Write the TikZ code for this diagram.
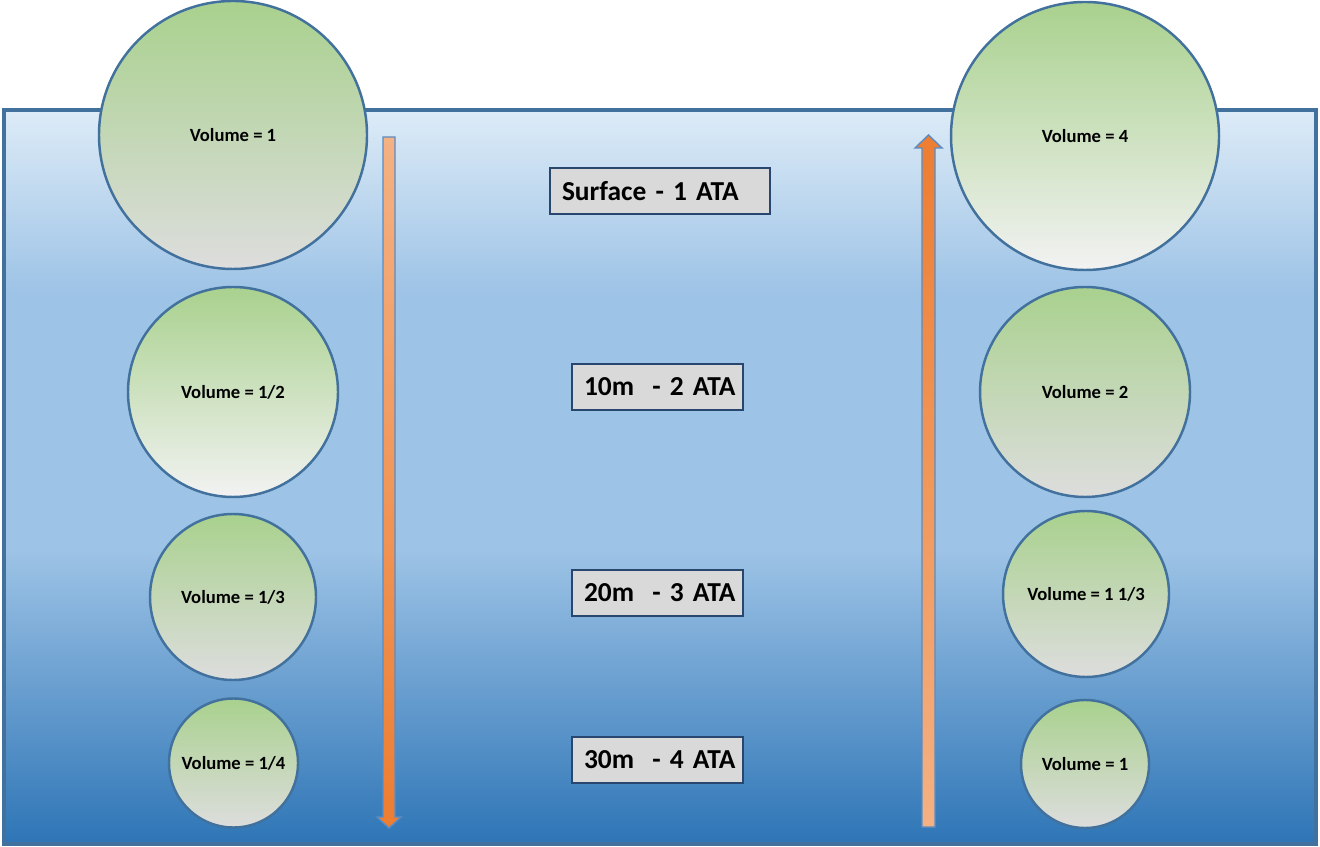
\documentclass[tikz,border=0pt]{standalone}
\usepackage{fontspec}
\setmainfont{Carlito}
\usetikzlibrary{calc}
\definecolor{seaborder}{RGB}{65,113,156}
\definecolor{seatop}{RGB}{221,235,247}
\definecolor{seamid}{RGB}{157,195,230}
\definecolor{seadeep}{RGB}{46,117,182}
\definecolor{bubblegreen}{RGB}{169,209,142}
\definecolor{bubblegrey}{RGB}{221,221,221}
\definecolor{bubblewhite}{RGB}{242,242,242}
\definecolor{depthfill}{RGB}{217,217,217}
\definecolor{depthborder}{RGB}{40,70,110}
\definecolor{arrowlight}{RGB}{244,177,131}
\definecolor{arrowdark}{RGB}{237,125,49}
\definecolor{arrowedge}{RGB}{91,140,195}
\pgfdeclareverticalshading{sea}{100bp}{color(0bp)=(seadeep); color(25bp)=(seadeep);
  color(45bp)=(seamid); color(62.5bp)=(seamid); color(75bp)=(seatop); color(100bp)=(seatop)}

\begin{document}
\begin{tikzpicture}[
    bubble/.style={circle,draw=seaborder,line width=0.7pt,inner sep=0pt,align=center,
      font=\fontsize{5.3}{6}\selectfont\bfseries,top color=bubblegreen,bottom color=bubblegrey},
    pale/.style={bottom color=bubblewhite},
    depth/.style={draw=depthborder,fill=depthfill,line width=0.7pt,minimum height=0.46cm,
      inner xsep=0.12cm,align=left,font=\fontsize{7.8}{9}\selectfont\bfseries},
    shaft/.style={draw=arrowedge,line width=0.4pt}]
  \useasboundingbox (0,0) rectangle (13.2,8.46);
  \path[draw=seaborder,line width=0.04cm,shade,shading=sea] (0.04,0.02) rectangle (13.16,7.36);

  \coordinate (dtop) at (3.89,7.09);
  \coordinate (dtip) at (3.89,0.18);
  \path[shaft,top color=arrowlight,bottom color=arrowdark]
    ($(dtop)+(-0.06,0)$) -- ($(dtop)+(0.06,0)$) -- ($(dtip)+(0.06,0.11)$) -- ($(dtip)+(0.12,0.11)$)
    -- (dtip) -- ($(dtip)+(-0.12,0.11)$) -- ($(dtip)+(-0.06,0.11)$) -- cycle;
  \coordinate (ubase) at (9.285,0.19);
  \coordinate (utip) at (9.285,7.11);
  \path[shaft,top color=arrowdark,bottom color=arrowlight]
    ($(ubase)+(-0.065,0)$) -- ($(ubase)+(0.065,0)$) -- ($(utip)+(0.065,-0.13)$) -- ($(utip)+(0.135,-0.13)$)
    -- (utip) -- ($(utip)+(-0.135,-0.13)$) -- ($(utip)+(-0.065,-0.13)$) -- cycle;

  \node[bubble,minimum size=2.68cm] (down1) at (2.33,7.11) {Volume = 1};
  \node[bubble,pale,minimum size=2.10cm] (down2) at (2.33,4.54) {Volume = 1/2};
  \node[bubble,minimum size=1.66cm] (down3) at (2.33,2.49) {Volume = 1/3};
  \node[bubble,minimum size=1.29cm] (down4) at (2.335,0.83) {Volume = 1/4};
  \node[bubble,pale,minimum size=2.68cm] (up1) at (10.85,7.10) {Volume = 4};
  \node[bubble,minimum size=2.10cm] (up2) at (10.85,4.54) {Volume = 2};
  \node[bubble,minimum size=1.66cm] (up3) at (10.86,2.52) {Volume = 1 1/3};
  \node[bubble,minimum size=1.28cm] (up4) at (10.85,0.82) {Volume = 1};

  \node[depth,text width=1.96cm] (surface) at (6.60,6.55) {\mbox{Surface - 1 ATA}};
  \node[depth,text width=1.47cm] (ten) at (6.575,4.59) {\mbox{10m\ \ - 2 ATA}};
  \node[depth,text width=1.47cm] (twenty) at (6.575,2.53) {\mbox{20m\ \ - 3 ATA}};
  \node[depth,text width=1.47cm] (thirty) at (6.575,0.86) {\mbox{30m\ \ - 4 ATA}};
\end{tikzpicture}
\end{document}
